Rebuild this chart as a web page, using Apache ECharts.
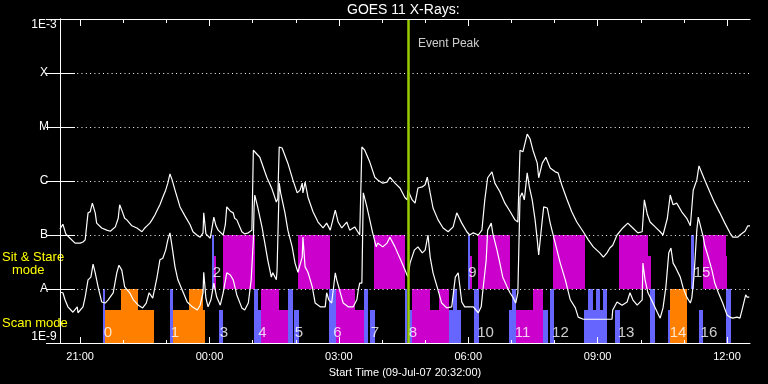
<!DOCTYPE html>
<html><head><meta charset="utf-8">
<script src="https://cdn.jsdelivr.net/npm/echarts@6/dist/echarts.min.js"></script>
<style>html,body{margin:0;padding:0;background:#000}#c{width:768px;height:384px}</style>
</head><body><div id="c"></div>
<script>
// ---------------- data ----------------
const chartTitle = 'GOES 11 X-Rays:';
const startTime = '20:32';
const xAxisTitle = 'Start Time (09-Jul-07 20:32:00)';
const durationMin = 960;                       // minutes shown after start time
const timeLabels = ['21:00','00:00','03:00','06:00','09:00','12:00'];
const hourTicks = ['21:00','22:00','23:00','00:00','01:00','02:00','03:00','04:00','05:00','06:00','07:00','08:00','09:00','10:00','11:00','12:00'];
const yLevels = [-9,-8,-7,-6,-5,-4,-3];          // log10 flux (W/m^2)
const yLabels = ['1E-9','A','B','C','M','X','1E-3'];
const eventPeakMin = 484;
const eventPeakText = 'Event Peak';
const modeTexts = ['Sit & Stare', 'mode', 'Scan mode'];

// [minutes after start, log10 flux]
const longFlux = [[0,-6.89],[4,-6.80],[8,-6.98],[14,-7.06],[21,-7.15],[28,-7.15],[32,-7.13],[35,-7.09],[39,-6.59],[42,-6.57],[45,-6.41],[49,-6.59],[51,-6.78],[58,-6.87],[65,-6.91],[70,-6.93],[77,-6.85],[81,-6.69],[83,-6.44],[86,-6.54],[90,-6.69],[93,-6.72],[100,-6.83],[107,-6.87],[114,-6.94],[118,-6.87],[121,-6.83],[125,-6.78],[128,-6.72],[132,-6.63],[136,-6.52],[139,-6.44],[143,-6.30],[147,-6.17],[150,-6.04],[153,-5.87],[156,-5.98],[160,-6.17],[167,-6.48],[174,-6.65],[181,-6.81],[185,-6.94],[192,-7.02],[195,-7.04],[199,-6.96],[200,-6.59],[203,-6.98],[209,-7.06],[211,-6.91],[214,-6.67],[217,-6.83],[220,-6.91],[227,-7.00],[230,-6.81],[232,-6.48],[237,-6.56],[241,-6.59],[243,-6.69],[246,-6.72],[253,-6.94],[257,-6.98],[262,-6.96],[267,-6.91],[269,-5.43],[271,-5.41],[278,-5.56],[285,-5.83],[288,-5.94],[295,-6.15],[301,-6.39],[303,-6.33],[305,-5.37],[309,-5.39],[317,-5.67],[324,-5.98],[330,-6.22],[334,-6.17],[337,-6.04],[338,-6.22],[341,-6.02],[345,-6.30],[352,-6.57],[359,-6.76],[366,-6.87],[371,-6.78],[376,-6.91],[383,-6.54],[387,-6.76],[392,-6.87],[399,-6.76],[403,-6.91],[410,-6.85],[417,-7.00],[420,-5.37],[424,-5.43],[431,-5.65],[438,-5.93],[442,-5.98],[449,-6.04],[455,-6.02],[459,-5.93],[466,-6.04],[473,-6.13],[480,-6.31],[483,-6.35],[484,-6.17],[490,-6.35],[494,-6.41],[498,-6.13],[504,-6.11],[508,-6.07],[511,-5.93],[515,-6.22],[519,-6.50],[526,-6.72],[533,-6.87],[540,-6.94],[547,-6.85],[552,-6.59],[559,-6.78],[566,-6.94],[570,-7.00],[575,-6.96],[582,-7.00],[587,-6.91],[591,-6.35],[595,-5.94],[601,-5.83],[605,-6.04],[612,-6.20],[619,-6.41],[626,-6.56],[633,-6.72],[637,-6.76],[640,-5.43],[644,-5.46],[647,-5.30],[650,-5.13],[654,-5.22],[658,-5.43],[664,-5.67],[666,-5.94],[671,-5.67],[676,-5.56],[682,-5.76],[689,-5.83],[693,-5.85],[698,-6.07],[705,-6.33],[712,-6.57],[719,-6.76],[728,-6.94],[735,-7.09],[742,-7.22],[751,-7.33],[756,-7.41],[761,-7.33],[765,-7.24],[769,-7.19],[775,-7.00],[783,-6.87],[790,-6.78],[797,-6.87],[804,-6.96],[810,-6.94],[813,-6.35],[817,-6.61],[821,-6.76],[828,-6.85],[835,-6.94],[839,-7.00],[845,-6.69],[849,-6.26],[853,-6.44],[858,-6.41],[865,-6.57],[872,-6.69],[877,-6.83],[881,-6.17],[886,-5.98],[889,-5.72],[893,-5.85],[897,-5.98],[904,-6.20],[911,-6.41],[918,-6.59],[925,-6.78],[932,-6.96],[936,-7.04],[943,-7.04],[946,-7.00],[953,-6.93],[957,-6.83],[960,-6.83]];

const shortFlux = [[0,-8.06],[4,-8.07],[7,-8.20],[11,-8.33],[18,-8.43],[24,-8.33],[25,-8.44],[32,-8.33],[35,-8.15],[39,-7.83],[43,-7.78],[46,-7.54],[49,-7.70],[53,-7.96],[58,-8.24],[63,-8.26],[67,-8.20],[74,-8.07],[79,-7.70],[82,-7.56],[86,-7.65],[90,-7.96],[97,-8.07],[102,-8.20],[109,-8.30],[115,-8.35],[120,-8.26],[124,-8.07],[129,-8.17],[135,-7.78],[139,-7.46],[143,-7.43],[147,-7.28],[150,-7.09],[153,-6.96],[156,-7.22],[160,-7.59],[164,-7.83],[170,-8.02],[177,-8.24],[184,-8.33],[191,-8.39],[195,-8.30],[199,-8.07],[200,-7.69],[203,-8.17],[206,-8.33],[210,-8.20],[214,-7.89],[218,-8.15],[223,-8.30],[227,-8.07],[232,-7.70],[237,-7.74],[241,-7.83],[246,-8.11],[253,-8.35],[257,-8.39],[262,-8.26],[266,-7.83],[269,-7.09],[270,-6.48],[271,-6.26],[275,-6.48],[281,-6.85],[285,-7.15],[289,-7.46],[294,-7.78],[296,-7.70],[301,-7.83],[302,-7.65],[305,-6.04],[307,-6.22],[313,-6.59],[317,-6.91],[323,-7.22],[327,-7.52],[331,-7.69],[337,-7.41],[338,-7.04],[341,-7.59],[345,-7.69],[351,-7.96],[355,-8.26],[362,-8.33],[369,-8.33],[371,-8.07],[374,-8.20],[378,-8.26],[383,-7.70],[385,-7.83],[390,-8.07],[394,-8.26],[401,-8.33],[408,-8.33],[413,-8.20],[415,-8.02],[417,-7.89],[420,-7.89],[422,-6.22],[427,-6.48],[431,-6.72],[435,-6.96],[440,-7.22],[442,-7.15],[449,-7.22],[455,-7.15],[459,-7.04],[466,-7.22],[473,-7.43],[480,-7.65],[484,-7.78],[487,-7.52],[493,-7.28],[498,-7.22],[504,-7.33],[508,-7.28],[512,-7.00],[515,-7.41],[519,-7.70],[526,-8.02],[531,-8.26],[538,-8.35],[545,-8.33],[550,-7.78],[554,-7.70],[559,-8.24],[563,-8.33],[575,-8.33],[582,-8.44],[586,-8.33],[588,-8.07],[593,-7.46],[595,-6.91],[600,-6.78],[602,-6.96],[608,-7.28],[612,-7.52],[616,-7.78],[622,-7.96],[626,-8.07],[630,-8.15],[634,-8.26],[637,-8.07],[640,-6.30],[643,-6.22],[646,-6.35],[650,-5.85],[653,-6.11],[657,-6.35],[661,-6.72],[664,-7.09],[666,-7.37],[671,-6.72],[673,-6.48],[678,-6.50],[682,-6.78],[689,-7.15],[696,-7.52],[703,-7.83],[710,-8.20],[717,-8.35],[721,-8.52],[728,-8.56],[768,-8.56],[769,-8.39],[775,-8.24],[782,-8.30],[789,-8.24],[793,-8.07],[797,-8.20],[803,-8.30],[810,-8.20],[811,-7.52],[814,-7.83],[818,-8.07],[821,-8.15],[825,-8.26],[831,-8.43],[835,-8.54],[839,-8.35],[843,-7.96],[847,-7.33],[850,-7.24],[853,-7.52],[856,-7.59],[858,-7.56],[863,-7.78],[867,-7.98],[872,-8.15],[877,-8.26],[879,-8.17],[882,-7.78],[886,-6.91],[888,-6.67],[890,-6.69],[895,-7.04],[897,-7.19],[902,-7.41],[907,-7.65],[911,-7.89],[916,-8.07],[922,-8.26],[928,-8.48],[932,-8.52],[936,-8.54],[942,-8.52],[946,-8.54],[950,-8.33],[954,-8.11],[956,-8.15],[959,-8.15]];

// observing-mode blocks: [start min, end min, bottom, top]
const scanBlocks = [[63.0,130.4,-9,-8.39],[84.9,108.1,-9,-8],[156.8,201.3,-9,-8.39],[179.5,199.0,-9,-8],[848.7,871.9,-9,-8]];
const sitStareBlocks = [[214.3,217.0,-8,-7.39],[226.8,271.3,-8,-7],[331.1,375.7,-8,-7],[436.9,480.4,-8,-7],[570.0,573.2,-8,-7.39],[581.6,626.1,-8,-7],[685.9,730.4,-8,-7],[777.7,818.1,-8,-7],[818.1,822.3,-8,-7.39],[894.6,926.6,-8,-7],[926.6,928.0,-8,-7.39],
  [279.7,305.1,-9,-8],[305.1,317.2,-9,-8.39],[384.0,410.4,-9,-8],[410.4,423.0,-9,-8.39],[489.7,514.8,-9,-8],[514.8,527.3,-9,-8.39],[527.3,541.6,-9,-8],[634.9,658.1,-9,-8.39],[658.1,672.4,-9,-8]];
const otherBlocks = [[59.8,63.0,-9,-8],[153.0,156.8,-9,-8],[221.2,227.2,-9,-8.39],[211.5,214.3,-8,-7],[269.9,274.8,-9,-8],[274.8,279.7,-9,-8.39],[317.2,323.5,-9,-8],[326.0,332.5,-9,-8.39],[374.3,384.0,-9,-8],[423.0,428.5,-9,-8],[431.3,437.8,-9,-8.39],[480.0,482.8,-9,-8],[486.0,489.7,-9,-8.39],[541.6,557.9,-9,-8.39],[547.2,551.7,-9,-8],[567.7,570.0,-8,-7],[576.0,583.0,-9,-8],[624.7,628.9,-9,-8.39],[628.9,634.9,-9,-8],[672.4,678.5,-9,-8.39],[681.7,686.9,-9,-8],[729.0,761.5,-9,-8.39],[735.0,741.6,-9,-8],[745.7,751.7,-9,-8],[755.5,761.5,-9,-8],[772.6,779.1,-9,-8.39],[820.9,827.4,-9,-8],[845.9,848.7,-9,-8.39],[877.9,882.1,-8,-7],[889.0,894.6,-9,-8.39],[926.6,933.6,-9,-8]];
const blockLabels = [['0',66.8,-8.815],['1',160.0,-8.815],['2',218.4,-7.70],['3',228.2,-8.815],['4',281.7,-8.815],['5',332.5,-8.815],['6',386.1,-8.815],['7',438.3,-8.815],['8',491.1,-8.815],['9',573.9,-7.70],['10',592.0,-8.815],['11',643.5,-8.815],['12',696.3,-8.815],['13',787.5,-8.815],['14',859.8,-8.815],['15',893.2,-7.70],['16',902.9,-8.815]];

// ---------------- chart ----------------
const FONT = 'Liberation Sans';
function toMin(hhmm) {
  const p = hhmm.split(':'), s = startTime.split(':');
  return ((+p[0] * 60 + +p[1]) - (+s[0] * 60 + +s[1]) + 1440) % 1440;
}
function fmtTime(v) {
  const s = startTime.split(':');
  const t = ((+s[0] * 60 + +s[1]) + Math.round(v)) % 1440;
  return String(Math.floor(t / 60)).padStart(2, '0') + ':' + String(t % 60).padStart(2, '0');
}
const majorVals = timeLabels.map(toMin);
const minorVals = hourTicks.map(toMin);

function rectItem(params, api) {
  const p0 = api.coord([api.value(0), api.value(3)]);
  const p1 = api.coord([api.value(1), api.value(2)]);
  const x0 = Math.round(p0[0]), x1 = Math.round(p1[0]);
  return { type: 'rect', shape: { x: x0, y: Math.round(p0[1]), width: Math.max(1, x1 - x0), height: Math.round(p1[1]) - Math.round(p0[1]) },
    style: { fill: api.visual('color') } };
}
function blockSeries(data, color) {
  return { type: 'custom', renderItem: rectItem, data: data, encode: { x: [0, 1], y: [2, 3] },
    itemStyle: { color: color }, z: 1, silent: true, clip: true };
}
const white = '#ffffff';
const baseX = { type: 'value', min: 0, max: durationMin, gridIndex: 0, splitLine: { show: false }, z: 5 };

const chart = echarts.init(document.getElementById('c'), null, { renderer: 'canvas' });
chart.setOption({
  backgroundColor: '#000000',
  animation: false,
  textStyle: { fontFamily: FONT },
  grid: { left: 60, right: 18, top: 19, bottom: 41 },
  graphic: [
    { type: 'text', left: 347, top: 3, style: { text: chartTitle, fill: white, font: '14px ' + FONT } },
    { type: 'text', left: 2, top: 251, style: { text: modeTexts[0], fill: '#ffff00', font: '13px ' + FONT } },
    { type: 'text', left: 12, top: 264, style: { text: modeTexts[1], fill: '#ffff00', font: '13px ' + FONT } },
    { type: 'text', left: 2, top: 317, style: { text: modeTexts[2], fill: '#ffff00', font: '13px ' + FONT } }
  ],
  xAxis: [
    Object.assign({}, baseX, { position: 'bottom',
      axisLine: { show: true, lineStyle: { color: white, width: 1 } },
      axisTick: { show: true, inside: true, length: 3, customValues: minorVals, lineStyle: { color: white } },
      axisLabel: { show: false },
      name: xAxisTitle, nameLocation: 'middle', nameGap: 24, nameTextStyle: { color: white, fontSize: 11, fontFamily: FONT } }),
    Object.assign({}, baseX, { position: 'bottom',
      axisLine: { show: false },
      axisTick: { show: true, inside: true, length: 6, customValues: majorVals, lineStyle: { color: white } },
      axisLabel: { show: true, customValues: majorVals, formatter: fmtTime, color: white, fontSize: 11, margin: 8, fontFamily: FONT } }),
    Object.assign({}, baseX, { position: 'top',
      axisLine: { show: true, lineStyle: { color: white, width: 1 } },
      axisTick: { show: true, inside: true, length: 4, customValues: minorVals, lineStyle: { color: white } },
      axisLabel: { show: false } }),
    Object.assign({}, baseX, { position: 'top',
      axisLine: { show: false },
      axisTick: { show: true, inside: true, length: 7, customValues: majorVals, lineStyle: { color: white } },
      axisLabel: { show: false } })
  ],
  yAxis: [
    { type: 'value', min: yLevels[0], max: yLevels[yLevels.length - 1], interval: 1, position: 'left', z: 5,
      axisLine: { show: true, lineStyle: { color: white } },
      axisTick: { show: true, inside: true, length: 15, lineStyle: { color: white } },
      axisLabel: { color: white, fontSize: 12, fontFamily: FONT, align: 'center', margin: 16,
        verticalAlignMaxLabel: 'top', verticalAlignMinLabel: 'bottom',
        formatter: v => yLabels[yLevels.indexOf(Math.round(v))] },
      splitLine: { show: true, lineStyle: { color: '#ffffff', width: 1, type: [1, 3.3] } } },
    { type: 'value', min: yLevels[0], max: yLevels[yLevels.length - 1], interval: 1, position: 'right', z: 5,
      axisLine: { show: true, lineStyle: { color: white } },
      axisTick: { show: true, inside: true, length: 14, lineStyle: { color: white } },
      axisLabel: { show: false }, splitLine: { show: false } }
  ],
  series: [
    blockSeries(scanBlocks, '#ff8000'),
    blockSeries(sitStareBlocks, '#cc00cc'),
    blockSeries(otherBlocks, '#6666ff'),
    { type: 'line', data: longFlux, showSymbol: false, symbol: 'none', z: 3, silent: true,
      lineStyle: { color: white, width: 1.2 } },
    { type: 'line', data: shortFlux, showSymbol: false, symbol: 'none', z: 3, silent: true,
      lineStyle: { color: white, width: 1.2 } },
    { type: 'scatter', symbolSize: 0, z: 6, silent: true,
      data: blockLabels.map(b => ({ name: b[0], value: [b[1], b[2]] })),
      label: { show: true, position: 'inside', formatter: '{b}', color: white, fontSize: 15, fontFamily: FONT } },
    { type: 'scatter', symbolSize: 0, z: 7, silent: true,
      data: [{ name: eventPeakText, value: [eventPeakMin, -3.45] }],
      label: { show: true, position: 'right', distance: 10, formatter: '{b}', color: white, fontSize: 12, fontFamily: FONT },
      markLine: { silent: true, symbol: 'none', label: { show: false }, animation: false,
        lineStyle: { color: '#99cc00', width: 2.5, type: 'solid' },
        data: [{ xAxis: eventPeakMin }] } }
  ]
});
</script></body></html>
